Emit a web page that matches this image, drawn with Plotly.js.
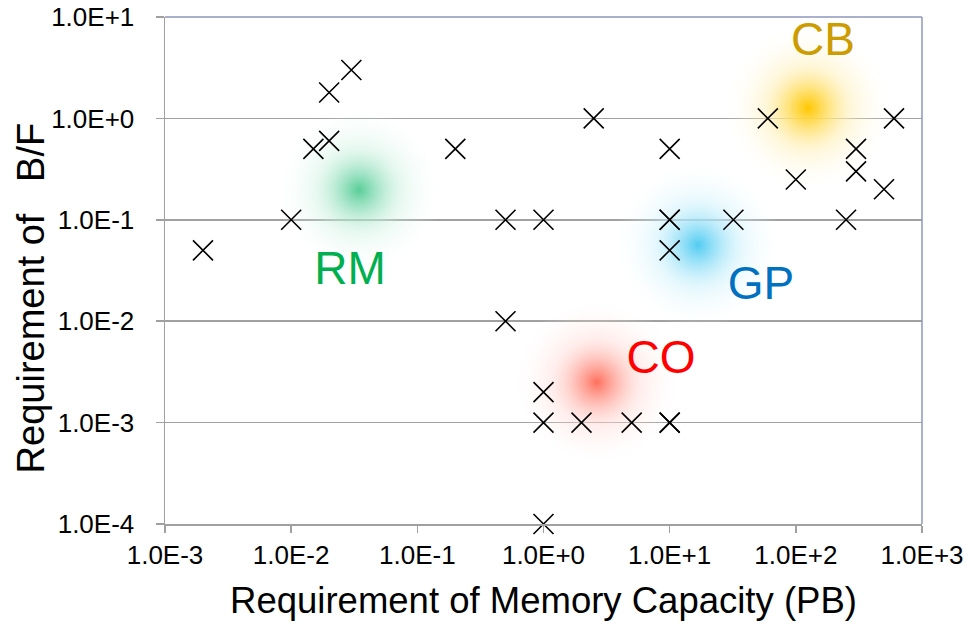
<!DOCTYPE html>
<html>
<head>
<meta charset="utf-8">
<script src="https://cdn.plot.ly/plotly-3.0.1.min.js"></script>
<style>html,body{margin:0;padding:0;background:#fff;}#chart{width:967px;height:625px;}</style>
</head>
<body>
<div id="chart"></div>
<script>
// Application requirements (memory capacity in PB vs. B/F)
const memCapacity = [0.002, 0.01, 0.015, 0.02, 0.02, 0.03, 0.2, 0.5, 1, 0.5, 1, 1, 2, 5, 10, 10, 1,
                     2.5, 10, 10, 10, 10, 32, 60, 100, 250, 300, 300, 500, 600];
const bfRequirement = [0.05, 0.1, 0.5, 0.6, 1.8, 3, 0.5, 0.1, 0.1, 0.01, 0.002, 0.001, 0.001, 0.001, 0.001, 0.001, 0.0001,
                       1, 0.5, 0.1, 0.1, 0.05, 0.1, 1, 0.25, 0.1, 0.5, 0.3, 0.2, 1];

// Category clusters (glow centres) and labels
const clusterNames = ["RM", "CB", "GP", "CO"];
const clusterX = [0.0345, 125, 16.8, 2.65];
const clusterY = [0.197, 1.27, 0.0564, 0.0025];
const glowOuterColors = ["rgba(130,220,180,0.75)", "rgba(255,215,70,0.85)", "rgba(130,220,248,0.85)", "rgba(255,160,150,0.8)"];
const glowInnerColors = ["rgba(70,200,140,0.8)", "rgba(255,200,0,1)", "rgba(70,200,240,0.85)", "rgba(255,100,80,0.85)"];
const labelX = [0.0293, 164, 53, 8.53];
const labelY = [0.0305, 5.54, 0.0217, 0.00396];
const labelColors = ["#00b050", "#cc9c00", "#0070c0", "#ff0000"];

// Axis ticks
const xTickVals = [1e-3, 1e-2, 1e-1, 1e0, 1e1, 1e2, 1e3];
const xTickText = ["1.0E-3", "1.0E-2", "1.0E-1", "1.0E+0", "1.0E+1", "1.0E+2", "1.0E+3"];
const yTickVals = [1e-4, 1e-3, 1e-2, 1e-1, 1e0, 1e1];
const yTickText = ["1.0E-4", "1.0E-3", "1.0E-2", "1.0E-1", "1.0E+0", "1.0E+1"];

const FONT = "Liberation Sans, Arial, sans-serif";
const CLEAR = "rgba(255,255,255,0)";

const glowOuter = {
  x: clusterX, y: clusterY, mode: "markers", type: "scatter", hoverinfo: "skip", showlegend: false,
  cliponaxis: false,
  marker: { size: 170, color: CLEAR, line: { width: 0 },
            gradient: { type: "radial", color: glowOuterColors } }
};
const glowInner = {
  x: clusterX, y: clusterY, mode: "markers", type: "scatter", hoverinfo: "skip", showlegend: false,
  cliponaxis: false,
  marker: { size: 100, color: CLEAR, line: { width: 0 },
            gradient: { type: "radial", color: glowInnerColors } }
};
const labels = {
  x: labelX, y: labelY, text: clusterNames, mode: "text", type: "scatter", hoverinfo: "skip", showlegend: false,
  cliponaxis: false,
  textfont: { family: FONT, size: 46, color: labelColors }
};
const points = {
  x: memCapacity, y: bfRequirement, mode: "markers", type: "scatter", showlegend: false, cliponaxis: false,
  marker: { symbol: "x-thin-open", size: 20, color: "#000", line: { width: 1.6, color: "#000" } }
};

const layout = {
  width: 967, height: 625,
  margin: { l: 165, r: 45, t: 17, b: 101 },
  paper_bgcolor: "#fff", plot_bgcolor: "#fff",
  font: { family: FONT, color: "#000" },
  showlegend: false,
  xaxis: {
    type: "log", range: [-3, 3], tickvals: xTickVals, ticktext: xTickText,
    tickfont: { size: 26, family: FONT, color: "#000" },
    showgrid: false, zeroline: false,
    showline: true, linecolor: "#a0a0a0", linewidth: 1.5,
    ticks: "outside", ticklen: 7, tickcolor: "#a0a0a0", tickwidth: 1.5,
    title: { text: "Requirement of Memory Capacity (PB)", font: { size: 36.5, family: FONT, color: "#000" }, standoff: 18 }
  },
  yaxis: {
    type: "log", range: [-4, 1], tickvals: yTickVals, ticktext: yTickText,
    tickfont: { size: 26, family: FONT, color: "#000" },
    showgrid: true, gridcolor: "#a0a0a0", gridwidth: 1.5, zeroline: false,
    showline: true, linecolor: "#a0a0a0", linewidth: 1.5,
    ticks: "outside", ticklen: 8, tickcolor: "#a0a0a0", tickwidth: 1.5,
    ticklabelstandoff: 16
  },
  annotations: [{
    text: "Requirement of&nbsp;&nbsp; B/F", textangle: -90, showarrow: false,
    xref: "paper", yref: "paper", x: -0.177, y: 0.445, xanchor: "center", yanchor: "middle",
    font: { size: 38, family: FONT, color: "#000" }
  }],
  shapes: [
    { type: "line", xref: "paper", yref: "paper", x0: 0, x1: 1, y0: 1, y1: 1, line: { color: "#8c97bb", width: 1.5 } },
    { type: "line", xref: "paper", yref: "paper", x0: 1, x1: 1, y0: 0, y1: 1, line: { color: "#8c97bb", width: 1.5 } }
  ]
};

Plotly.newPlot("chart", [glowOuter, glowInner, labels, points], layout, { displayModeBar: false, staticPlot: true });
</script>
</body>
</html>
